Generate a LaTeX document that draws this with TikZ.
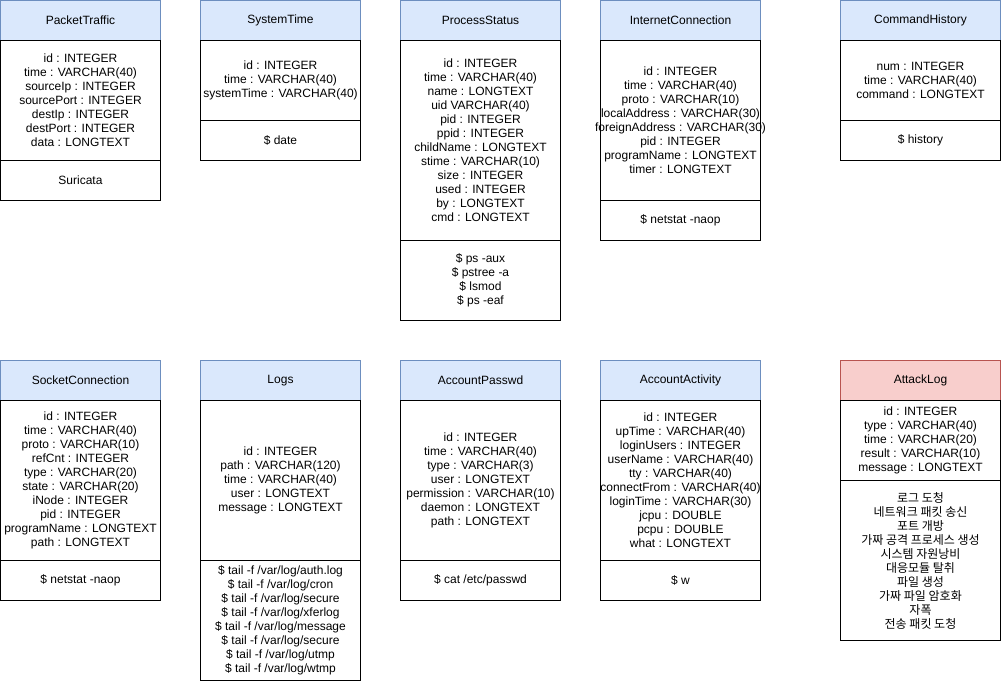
\documentclass[tikz,border=0pt]{standalone}
\usepackage{fontspec}
\setmainfont{Liberation Sans}
\newfontfamily\cjk{Noto Sans CJK KR}
\definecolor{hblue}{HTML}{DAE8FC}
\definecolor{sblue}{HTML}{6C8EBF}
\definecolor{hred}{HTML}{F8CECC}
\definecolor{sred}{HTML}{B85450}
\tikzset{
  base/.style={rectangle, minimum width=120pt, inner sep=0pt, outer sep=0pt,
    line width=0.75pt, align=center,
    font=\fontsize{9}{10.5}\selectfont},
  hdrblue/.style={base, fill=hblue, draw=sblue, minimum height=30pt},
  hdrred/.style={base, fill=hred, draw=sred, minimum height=30pt},
  body/.style={base, draw=black, fill=white},
  txt/.style={inner sep=0pt, outer sep=0pt, align=center,
    font=\fontsize{9}{10.5}\selectfont},
}
\newcommand\mytable[9]{%
  \node[#9, anchor=north west] (#1h) at (#2,#3) {#4};
  \node[body, minimum height=#5*0.75pt, anchor=north west] (#1a) at (#1h.south west) {};
  \node[txt] (#1at) at (#1a.center) {#6};
  \node[body, minimum height=#7*0.75pt, anchor=north west] (#1c) at (#1a.south west) {};
  \node[txt] (#1ct) at (#1c.center) {#8};
}
\begin{document}
\begin{tikzpicture}[x=0.75pt, y=-0.75pt]
\lineskiplimit=-20pt\relax
\lineskip=0pt\relax
\useasboundingbox (0,0) rectangle (1001,681);
% Row 1
\mytable{pt}{0.5}{0.5}{PacketTraffic}{120}{id : INTEGER\\time : VARCHAR(40)\\sourceIp : INTEGER\\sourcePort : INTEGER\\destIp : INTEGER\\destPort : INTEGER\\data : LONGTEXT}{40}{Suricata}{hdrblue}
\mytable{st}{200.5}{0.5}{SystemTime}{80}{id : INTEGER\\time : VARCHAR(40)\\systemTime : VARCHAR(40)}{40}{\$ date}{hdrblue}
\mytable{ps}{400.5}{0.5}{ProcessStatus}{200}{id : INTEGER\\time : VARCHAR(40)\\name : LONGTEXT\\uid VARCHAR(40)\\pid : INTEGER\\ppid : INTEGER\\childName : LONGTEXT\\stime : VARCHAR(10)\\size : INTEGER\\used : INTEGER\\by : LONGTEXT\\cmd : LONGTEXT}{80}{\$ ps -aux\\\$ pstree -a\\\$ lsmod\\\$ ps -eaf}{hdrblue}
\mytable{ic}{600.5}{0.5}{InternetConnection}{160}{id : INTEGER\\time : VARCHAR(40)\\proto : VARCHAR(10)\\localAddress : VARCHAR(30)\\foreignAddress : VARCHAR(30)\\pid : INTEGER\\programName : LONGTEXT\\timer : LONGTEXT}{40}{\$ netstat -naop}{hdrblue}
\mytable{ch}{840.5}{0.5}{CommandHistory}{80}{num : INTEGER\\time : VARCHAR(40)\\command : LONGTEXT}{40}{\$ history}{hdrblue}
% Row 2
\mytable{sc}{0.5}{360.5}{SocketConnection}{160}{id : INTEGER\\time : VARCHAR(40)\\proto : VARCHAR(10)\\refCnt : INTEGER\\type : VARCHAR(20)\\state : VARCHAR(20)\\iNode : INTEGER\\pid : INTEGER\\programName : LONGTEXT\\path : LONGTEXT}{40}{\$ netstat -naop}{hdrblue}
\mytable{lg}{200.5}{360.5}{Logs}{160}{id : INTEGER\\path : VARCHAR(120)\\time : VARCHAR(40)\\user : LONGTEXT\\message : LONGTEXT}{120}{\$ tail -f /var/log/auth.log\\\$ tail -f /var/log/cron\\\$ tail -f /var/log/secure\\\$ tail -f /var/log/xferlog\\\$ tail -f /var/log/message\\\$ tail -f /var/log/secure\\\$ tail -f /var/log/utmp\\\$ tail -f /var/log/wtmp}{hdrblue}
\mytable{ap}{400.5}{360.5}{AccountPasswd}{160}{id : INTEGER\\time : VARCHAR(40)\\type : VARCHAR(3)\\user : LONGTEXT\\permission : VARCHAR(10)\\daemon : LONGTEXT\\path : LONGTEXT}{40}{\$ cat /etc/passwd}{hdrblue}
\mytable{aa}{600.5}{360.5}{AccountActivity}{160}{id : INTEGER\\upTime : VARCHAR(40)\\loginUsers : INTEGER\\userName : VARCHAR(40)\\tty : VARCHAR(40)\\connectFrom : VARCHAR(40)\\loginTime : VARCHAR(30)\\jcpu : DOUBLE\\pcpu : DOUBLE\\what : LONGTEXT}{40}{\$ w}{hdrblue}
\mytable{al}{840.5}{360.5}{AttackLog}{80}{id : INTEGER\\type : VARCHAR(40)\\time : VARCHAR(20)\\result : VARCHAR(10)\\message : LONGTEXT}{160}{\cjk 로그 도청\\\cjk 네트워크 패킷 송신\\\cjk 포트 개방\\\cjk 가짜 공격 프로세스 생성\\\cjk 시스템 자원낭비\\\cjk 대응모듈 탈취\\\cjk 파일 생성\\\cjk 가짜 파일 암호화\\\cjk 자폭\\\cjk 전송 패킷 도청}{hdrred}
\end{tikzpicture}
\end{document}
